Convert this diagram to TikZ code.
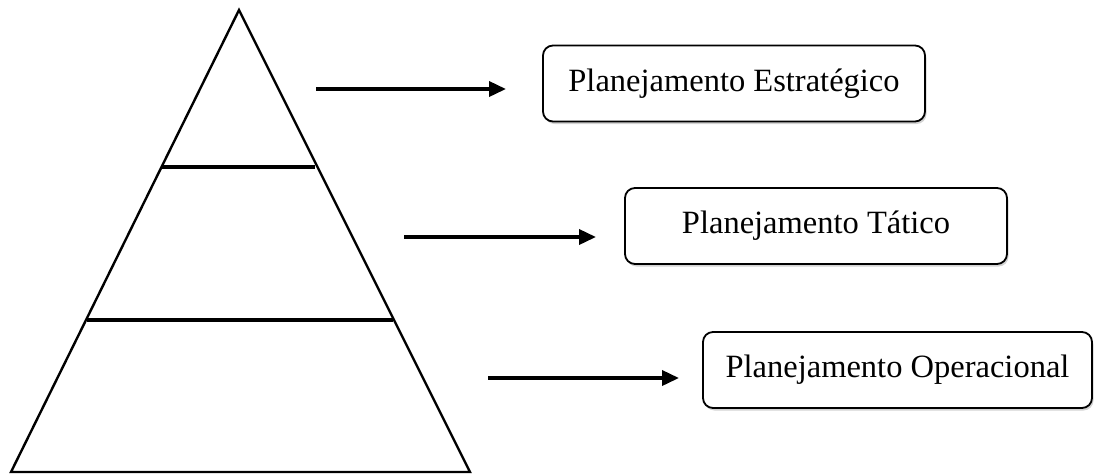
\documentclass[tikz,border=0pt]{standalone}
\usepackage{fontspec}
\setmainfont{Liberation Serif}
\usetikzlibrary{arrows.meta,shadows}
\begin{document}
\begin{tikzpicture}[x=1pt,y=-1pt,
  levelbox/.style={draw=black, line width=1.8pt, rounded corners=10pt, fill=white,
    minimum width=#1, minimum height=76pt, inner sep=0pt, font=\fontsize{32.5}{38}\selectfont,
    drop shadow={shadow xshift=1.5pt, shadow yshift=-2.5pt, opacity=0.35}},
  pyr/.style={line width=2.4pt, line join=miter},
  divider/.style={line width=3.6pt},
  pointer/.style={line width=3.6pt, -{Triangle[length=17pt,width=15pt]}}]
  \useasboundingbox (0,0) rectangle (1094,475);
  % pyramid outline
  \coordinate (apex) at (239,10);
  \coordinate (bl) at (11,472);
  \coordinate (br) at (470,472);
  \draw[pyr] (apex) -- (br) -- (bl) -- cycle;
  % level dividers
  \coordinate (d1l) at (162,167);
  \coordinate (d1r) at (315,167);
  \coordinate (d2l) at (87,320);
  \coordinate (d2r) at (393,320);
  \draw[divider] (d1l) -- (d1r);
  \draw[divider] (d2l) -- (d2r);
  % planning levels
  \node[levelbox=382pt] (est) at (734,83.5) {Planejamento Estratégico};
  \node[levelbox=382pt] (tat) at (816,226) {Planejamento Tático};
  \node[levelbox=389pt] (ope) at (897.5,370) {Planejamento Operacional};
  % arrows
  \coordinate (a1s) at (316,89);
  \coordinate (a1e) at (506,89);
  \coordinate (a2s) at (404,237);
  \coordinate (a2e) at (596,237);
  \coordinate (a3s) at (488,378);
  \coordinate (a3e) at (679,378);
  \draw[pointer] (a1s) -- (a1e);
  \draw[pointer] (a2s) -- (a2e);
  \draw[pointer] (a3s) -- (a3e);
\end{tikzpicture}
\end{document}
